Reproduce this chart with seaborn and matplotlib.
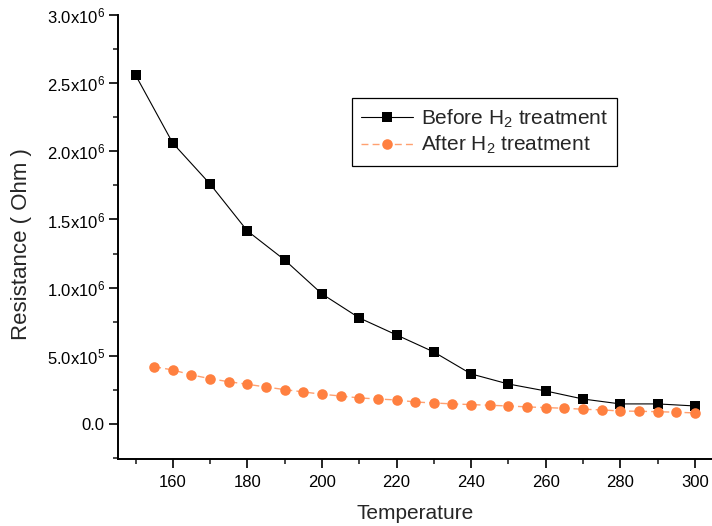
import matplotlib
matplotlib.use("Agg")
import matplotlib.pyplot as plt
from matplotlib.ticker import MultipleLocator, FixedLocator
import seaborn as sns
import pandas as pd

# Resistance vs temperature, before and after H2 treatment
temp_before = [150, 160, 170, 180, 190, 200, 210, 220, 230, 240, 250, 260, 270, 280, 290, 300]
res_before = [2.56e6, 2.06e6, 1.76e6, 1.416e6, 1.203e6, 0.954e6, 0.778e6, 0.653e6,
              0.528e6, 0.367e6, 0.293e6, 0.242e6, 0.183e6, 0.147e6, 0.147e6, 0.132e6]

temp_after = [155, 160, 165, 170, 175, 180, 185, 190, 195, 200, 205, 210, 215, 220, 225,
              230, 235, 240, 245, 250, 255, 260, 265, 270, 275, 280, 285, 290, 295, 300]
res_after = [0.420e6, 0.396e6, 0.360e6, 0.332e6, 0.310e6, 0.291e6, 0.271e6, 0.252e6,
             0.235e6, 0.218e6, 0.205e6, 0.191e6, 0.183e6, 0.176e6, 0.161e6, 0.154e6,
             0.147e6, 0.142e6, 0.137e6, 0.132e6, 0.125e6, 0.120e6, 0.115e6, 0.108e6,
             0.103e6, 0.095e6, 0.093e6, 0.090e6, 0.086e6, 0.081e6]

y_ticks = [0.0, 0.5e6, 1.0e6, 1.5e6, 2.0e6, 2.5e6, 3.0e6]
y_tick_labels = ["0.0", "5.0x10$^5$", "1.0x10$^6$", "1.5x10$^6$",
                 "2.0x10$^6$", "2.5x10$^6$", "3.0x10$^6$"]
x_ticks = [160, 180, 200, 220, 240, 260, 280, 300]

sns.set_theme(style="ticks")
plt.rcParams["font.family"] = ["Liberation Sans", "DejaVu Sans"]
plt.rcParams["mathtext.fontset"] = "custom"
plt.rcParams["mathtext.rm"] = "Liberation Sans"
plt.rcParams["mathtext.it"] = "Liberation Sans"
plt.rcParams["mathtext.default"] = "regular"

df_before = pd.DataFrame({"Temperature": temp_before, "Resistance": res_before})
df_after = pd.DataFrame({"Temperature": temp_after, "Resistance": res_after})

fig = plt.figure(figsize=(7.12, 5.26), dpi=100)
ax = fig.add_axes([0.1657, 0.1274, 0.8343, 0.8441])

sns.lineplot(data=df_before, x="Temperature", y="Resistance", ax=ax,
             color="black", linewidth=0.8, marker="s", markersize=6.6,
             markerfacecolor="black", markeredgewidth=0,
             label="Before H$_2$ treatment")
sns.lineplot(data=df_after, x="Temperature", y="Resistance", ax=ax,
             color="#FFA070", linewidth=1.0, linestyle=(0, (5, 3)), marker="o",
             markersize=7.6, markerfacecolor="#FF8040", markeredgewidth=0,
             label="After H$_2$ treatment")

ax.set_xlim(145.3, 304.6)
ax.set_ylim(-0.257e6, 3.0e6)

ax.xaxis.set_major_locator(FixedLocator(x_ticks))
ax.xaxis.set_minor_locator(MultipleLocator(10))
ax.yaxis.set_major_locator(FixedLocator(y_ticks))
ax.set_yticklabels(y_tick_labels)
ax.yaxis.set_minor_locator(MultipleLocator(0.25e6))

ax.tick_params(axis="both", which="major", direction="out", length=6.5, width=1.2,
               labelsize=12, colors="black", pad=3)
ax.tick_params(axis="x", which="major", pad=5)
ax.tick_params(axis="both", which="minor", direction="out", length=3.8, width=1.2)

for side in ("top", "right"):
    ax.spines[side].set_visible(False)
for side in ("left", "bottom"):
    ax.spines[side].set_linewidth(1.4)
    ax.spines[side].set_color("black")

ax.set_xlabel("Temperature", fontsize=15, labelpad=10)
ax.set_ylabel("Resistance ( Ohm )", fontsize=16)
ax.yaxis.set_label_coords(-0.145, 0.484)

leg = ax.legend(loc="upper left", bbox_to_anchor=(0.394, 0.813), fontsize=15,
                frameon=True, fancybox=False, edgecolor="black", framealpha=1,
                handlelength=2.5, borderpad=0.45, labelspacing=0.2,
                handletextpad=0.35, borderaxespad=0)
leg.get_frame().set_linewidth(0.9)

fig.savefig("out.png", dpi=100)
